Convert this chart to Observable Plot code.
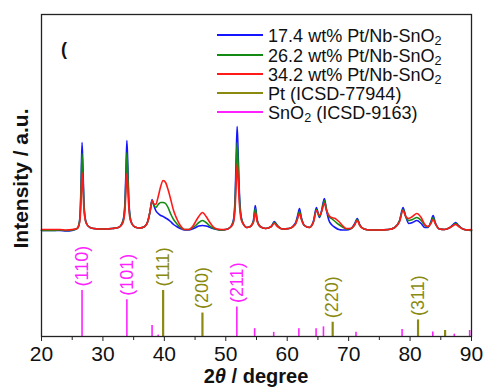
<!DOCTYPE html>
<html><head><meta charset="utf-8">
<script src="https://cdn.jsdelivr.net/npm/d3@7"></script>
<script src="https://cdn.jsdelivr.net/npm/@observablehq/plot@0.6"></script>
<style>
body{margin:0;background:#fff;font-family:"Liberation Sans",Arial,sans-serif;}
#wrap{position:relative;width:483px;height:388px;overflow:hidden;}
#wrap svg{position:absolute;left:0;top:0;}
.lg{position:absolute;left:217px;height:19px;width:250px;}
.lg .ln{position:absolute;left:0;top:8px;width:46px;height:2px;}
.lg .tx{position:absolute;left:51px;top:0;font-size:19px;line-height:19px;white-space:nowrap;color:#111;transform:scaleX(0.95);transform-origin:left center;}
.lg sub{font-size:0.7em;vertical-align:-0.2em;line-height:0;}
#xl{position:absolute;left:156px;width:200px;top:366px;text-align:center;font-weight:bold;font-size:20px;line-height:20px;color:#111;}
#yl{position:absolute;left:-80px;width:200px;top:168px;text-align:center;font-weight:bold;font-size:21px;line-height:21px;color:#111;transform:rotate(-90deg);transform-origin:center center;}
#pa{position:absolute;left:61px;top:39px;font-size:18px;line-height:20px;font-weight:bold;color:#111;}
</style></head><body><div id="wrap"></div>
<script>
// 2θ grid (degrees) and intensities above each pattern's baseline (a.u.)
const theta = [
 20,21,22,23,24,25,25.8,26.1,26.3,26.45,
 26.6,26.75,26.9,27.1,27.4,27.9,28.5,29.5,30.5,31.5,
 32.5,33.1,33.4,33.6,33.75,33.9,34.05,34.2,34.4,34.7,
 35.2,36.0,36.8,37.3,37.7,38.0,38.25,38.6,39.0,39.4,
 39.8,40.2,40.6,41.0,41.5,42.0,42.6,43.3,44.0,44.6,
 45.1,45.6,46.2,46.8,47.3,47.9,48.6,49.3,50.0,50.7,
 51.2,51.5,51.7,51.85,52.0,52.2,52.5,52.9,53.4,54.0,
 54.5,54.8,55.1,55.6,56.5,57.4,57.9,58.4,59.2,60.3,
 61.3,61.7,62.0,62.3,62.8,63.6,64.3,64.75,65.25,65.6,
 66.05,66.4,66.8,67.2,67.8,68.4,69.0,69.6,70.4,71.0,
 71.4,71.8,72.5,73.5,75,76.5,77.5,78.3,78.85,79.3,
 79.8,80.4,81.1,81.8,82.4,82.9,83.4,83.75,84.1,84.8,
 85.6,86.5,87.0,87.4,87.9,88.6,89.3,90];
const pt174 = [
 0,0,0,0,-0.5,0,2,6,18,50,
 88,62,30,13,6,3,2,1.5,1.5,2,
 3,7,14,30,60,90,65,33,15,7,
 3.5,2.5,4,9,20,31,26,20,17,15,
 14,12.5,11,9,6,4,2,0.5,0.5,1.5,
 3,4.5,5,4.5,3.5,2,1,0.5,1,3,
 9,30,75,104,80,40,14,6,3,4,
 10,25,11,4,2,4,9,5,1.5,2,
 7,15,22,13,5,3,10,23,13,20,
 32,20,10,6,3,1,0.5,0.5,2,7,
 12,6,1.5,0.5,0.5,1,3,10,23,14,
 7,8,10,7,3,3,9,15,8,1.5,
 1,3,6,8,5,1.5,0.5,0];
const pt262 = [
 0,0,0,0.5,0,0.5,2,6,16,44,
 77,55,26,12,6,3,2,1.5,1.5,2,
 3,7,13,27,52,78,57,29,14,7,
 3.5,2.5,4,9,20,30,26,23,26,28,
 28,27,23,17,11,7,3,1,1,3,
 5,8,10,8,5,2.5,1,0.5,1,3,
 8,26,64,88,68,35,13,6,3,4,
 9,22,10,4,2,4,8,5,1.5,2,
 6,13,19,12,5,3,9,21,14,19,
 30,21,14,12,9,6,3.5,1.5,2,6,
 11,5.5,1.5,0.5,0.5,1,3,10,21,14,
 10,11,13,10,5,3.5,8,13,7,1.5,
 1,3,5,7,4.5,1.5,0.5,0];
const pt342 = [
 1,1,1,1,0.5,1,2,5,13,33,
 58,42,22,11,6,3,2,1.5,1.5,2,
 3,6,11,21,40,57,43,24,12,7,
 3.5,2.5,4,9,20,30,27,26,34,44,
 50,48,41,32,20,12,5,1,1,4,
 9,14,18,14,9,4,1.5,1,1,3,
 7,20,48,67,52,28,11,6,3,4,
 8,18,9,4,2,4,7,4,1.5,2,
 6,12,17,11,5,3,9,20,15,19,
 27,20,15,13,12,9,5,2,2,6,
 10,5,1.5,0.5,0.5,1,3,9,20,14,
 12,14,17,13,6,4,7,11,7,1.5,
 1,3,5,6,4,1.5,0.5,1];
const seriesNames = ["17.4 wt% Pt/Nb-SnO<sub>2</sub>", "26.2 wt% Pt/Nb-SnO<sub>2</sub>", "34.2 wt% Pt/Nb-SnO<sub>2</sub>", "Pt (ICSD-77944)", "SnO<sub>2</sub> (ICSD-9163)"];
const seriesColors = ["#1515ff", "#138a13", "#ff1a1a", "#8a8a10", "#ff22ff"];

// reference patterns: positions (2θ), relative intensities, hkl labels
const ptPos = [39.8, 46.2, 67.4, 81.3, 85.7];
const ptRel = [100, 51, 31, 36, 13];
const ptHkl = ["(111)", "(200)", "(220)", "(311)", ""];
const snPos = [26.6, 33.9, 38.0, 39.0, 51.8, 54.7, 57.8, 61.9, 64.7, 65.9, 71.2, 78.7, 83.7, 87.2, 89.7];
const snRel = [100, 80, 24, 3, 64, 17, 9, 17, 17, 21, 9, 15, 10, 5, 13];
const snHkl = ["(110)", "(101)", "", "", "(211)", "", "", "", "", "", "", "", "", "", ""];
const xTicks = [20, 30, 40, 50, 60, 70, 80, 90];
const xMinor = [25, 35, 45, 55, 65, 75, 85];

const baseOffset = 106;   // vertical offset of measured patterns
const stickScale = 0.46;  // reference stick scale

const curves = [pt174, pt262, pt342].map(arr => theta.map((t, i) => ({t, v: arr[i] + baseOffset})));
const ptData = ptPos.map((p, i) => ({p, h: ptRel[i] * stickScale, l: ptHkl[i]}));
const snData = snPos.map((p, i) => ({p, h: snRel[i] * stickScale, l: snHkl[i]}));

const chart = Plot.plot({
  width: 483, height: 388,
  marginLeft: 41, marginRight: 12, marginTop: 14, marginBottom: 52,
  style: {fontFamily: "'Liberation Sans', Arial, sans-serif", color: "#111", background: "transparent"},
  x: {domain: [20, 90]},
  y: {domain: [0, 322], axis: null},
  marks: [
    Plot.ruleX(snData, {x: "p", y1: 0, y2: "h", stroke: seriesColors[4], strokeWidth: 1.6}),
    Plot.ruleX(ptData, {x: "p", y1: 0, y2: "h", stroke: seriesColors[3], strokeWidth: 2.2}),
    Plot.text(snData.filter(d => d.l), {x: "p", y: "h", text: "l", rotate: -90, textAnchor: "start", dy: -4, fill: seriesColors[4], fontSize: 18}),
    Plot.text(ptData.filter(d => d.l), {x: "p", y: "h", text: "l", rotate: -90, textAnchor: "start", dy: -4, fill: seriesColors[3], fontSize: 18}),
    Plot.line(curves[0], {x: "t", y: "v", stroke: seriesColors[0], strokeWidth: 1.6, curve: "monotone-x"}),
    Plot.line(curves[1], {x: "t", y: "v", stroke: seriesColors[1], strokeWidth: 1.6, curve: "monotone-x"}),
    Plot.line(curves[2], {x: "t", y: "v", stroke: seriesColors[2], strokeWidth: 1.6, curve: "monotone-x"}),
    Plot.axisX(xTicks, {tickSize: 5, tickPadding: 5, fontSize: 21, label: null, stroke: "#222"}),
    Plot.axisX(xMinor, {tickSize: 4, tickFormat: () => "", label: null, stroke: "#222"}),
    Plot.frame({stroke: "#222", strokeWidth: 1.3})
  ]
});
const wrap = document.getElementById("wrap");
wrap.appendChild(chart);

seriesNames.forEach((name, i) => {
  const row = document.createElement("div");
  row.className = "lg";
  row.style.top = Math.round(26.3 + 19.25 * i) + "px";
  row.innerHTML = `<div class="ln" style="background:${seriesColors[i]}"></div><div class="tx">${name}</div>`;
  wrap.appendChild(row);
});
const xl = document.createElement("div");
xl.id = "xl"; xl.innerHTML = "2<i>θ</i> / degree";
wrap.appendChild(xl);
const yl = document.createElement("div");
yl.id = "yl"; yl.textContent = "Intensity / a.u.";
wrap.appendChild(yl);
const pa = document.createElement("div");
pa.id = "pa"; pa.textContent = "(";
wrap.appendChild(pa);
</script>
</body></html>
